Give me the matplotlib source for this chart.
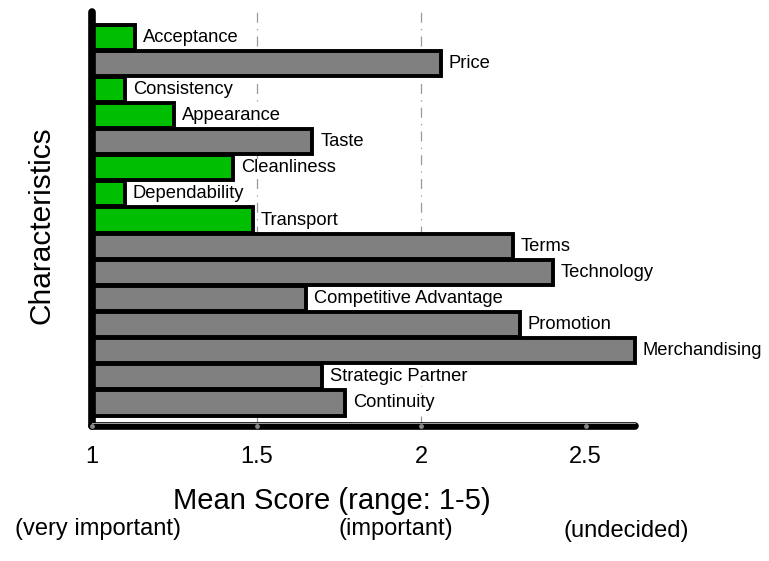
import matplotlib
matplotlib.use("Agg")
import matplotlib.pyplot as plt

plt.rcParams['font.family'] = ['Liberation Sans', 'DejaVu Sans']

# characteristics, top to bottom
labels = ['Acceptance', 'Price', 'Consistency', 'Appearance', 'Taste',
          'Cleanliness', 'Dependability', 'Transport', 'Terms', 'Technology',
          'Competitive Advantage', 'Promotion', 'Merchandising',
          'Strategic Partner', 'Continuity']
scores = [1.13, 2.06, 1.10, 1.25, 1.67, 1.43, 1.10, 1.49, 2.28, 2.40,
          1.65, 2.30, 2.65, 1.70, 1.77]
groups = ['g', 'x', 'g', 'g', 'x', 'g', 'g', 'g', 'x', 'x',
          'x', 'x', 'x', 'x', 'x']
ticks = [1, 1.5, 2, 2.5]
tick_labels = ['1', '1.5', '2', '2.5']
scale_notes = ['(very important)', '(important)', '(undecided)']

colors = {'g': '#00bf00', 'x': '#808080'}
W, H = 769, 561

fig = plt.figure(figsize=(W / 100, H / 100), dpi=100)
ax = fig.add_axes([92 / W, (H - 426) / H, 620 / W, 414 / H])
ax.set_xlim(1, 1 + 620 / 329)
ax.set_ylim(len(labels) - 0.12, -0.96)

ypos = list(range(len(labels)))
ax.barh(ypos, [s - 1 for s in scores], left=1, height=0.96,
        color=[colors[g] for g in groups], edgecolor='black', linewidth=2.8,
        zorder=2)

for y, s, lab in zip(ypos, scores, labels):
    ax.text(s + 0.024, y, lab, ha='left', va='center', fontsize=13.2,
            zorder=3, bbox=dict(facecolor='white', edgecolor='none', pad=0.5))

# dash-dot gridlines at 1.5 and 2
for g in ticks[1:3]:
    ax.axvline(g, color='#999999', lw=0.9, ls=(0, (8, 5, 1, 5)), zorder=0)

for sp in ax.spines.values():
    sp.set_visible(False)
ax.set_xticks([])
ax.set_yticks([])

# heavy axis lines
ybot = len(labels) - 0.12
ax.plot([1, max(scores)], [ybot, ybot], color='black', lw=5.5,
        solid_capstyle='round', clip_on=False, zorder=4)
ax.plot([1, 1], [ybot, -0.96], color='black', lw=5.5,
        solid_capstyle='round', clip_on=False, zorder=4)
ax.plot([1, max(scores)], [ybot - 0.1, ybot - 0.1], color='#bbbbbb', lw=0.6,
        clip_on=False, zorder=5)
ax.scatter(ticks, [ybot] * len(ticks), s=6, color='#888888', zorder=6,
           clip_on=False)

for t, tl in zip(ticks, tick_labels):
    ax.annotate(tl, xy=(t, ybot), xytext=(0, -31), textcoords='offset pixels',
                ha='center', va='center', fontsize=17, annotation_clip=False)

fig.text(332 / W, 1 - 501 / H, 'Mean Score (range: 1-5)', ha='center',
         va='center', fontsize=21)
fig.text(42 / W, 1 - 225 / H, 'Characteristics', ha='center', va='center',
         rotation=90, fontsize=21.5)
for xp, yp, note in zip([98, 396, 626], [529, 529, 531], scale_notes):
    fig.text(xp / W, 1 - yp / H, note, ha='center', va='center', fontsize=17)

fig.savefig('out.png', dpi=100)
